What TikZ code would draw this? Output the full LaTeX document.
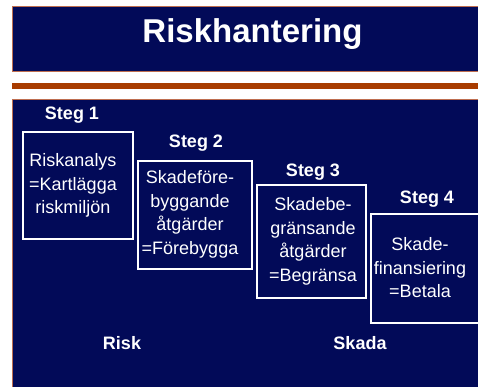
\documentclass[tikz,border=0pt]{standalone}
\usepackage{fontspec}
\setmainfont{Liberation Sans}
\definecolor{navy}{RGB}{2,10,88}
\definecolor{rust}{RGB}{168,60,0}
\definecolor{edge}{RGB}{190,110,80}
\begin{document}
\begin{tikzpicture}[x=1pt,y=-1pt,
  panel/.style={fill=navy,draw=edge,line width=1pt},
  stepbox/.style={draw=white,line width=1.6pt,anchor=north west,inner sep=0pt},
  boxtext/.style={text=white,font=\fontsize{18}{23.5}\selectfont,align=center,inner sep=0pt},
  steplabel/.style={text=white,font=\fontsize{18}{22}\selectfont\bfseries,inner sep=0pt},
  bottomlabel/.style={text=white,font=\fontsize{18}{22}\selectfont\bfseries,inner sep=0pt,anchor=base}]
\useasboundingbox (0,0) rectangle (478,387);
\clip (0,0) rectangle (478,387);
\fill[white] (0,0) rectangle (478,387);
% title band
\filldraw[panel] (12,7) rectangle (490,72);
\node[text=white,font=\fontsize{33}{36}\selectfont\bfseries,anchor=base,inner sep=0pt] (title) at (252.5,43) {Riskhantering};
% rust bar
\fill[rust] (12,83) rectangle (490,89);
% lower panel
\filldraw[panel] (12,100) rectangle (490,400);
% boxes
\node[stepbox,minimum width=110pt,minimum height=107pt] (b1) at (22,131) {};
\node[stepbox,minimum width=114pt,minimum height=108pt] (b2) at (137,160) {};
\node[stepbox,minimum width=109pt,minimum height=113pt] (b3) at (256,184) {};
\node[stepbox,minimum width=130pt,minimum height=109pt] (b4) at (370,213) {};
% step labels
\node[steplabel] (s1) at (72,115) {Steg 1};
\node[steplabel] (s2) at (196,143) {Steg 2};
\node[steplabel] (s3) at (313,172) {Steg 3};
\node[steplabel] (s4) at (427,199) {Steg 4};
% box texts
\node[boxtext] (t1) at (73,185.5) {Riskanalys\\=Kartlägga\\riskmiljön};
\node[boxtext] (t2) at (190,214.5) {Skadeföre-\\byggande\\åtgärder\\=Förebygga};
\node[boxtext] (t3) at (313,241.5) {Skadebe-\\gränsande\\åtgärder\\=Begränsa};
\node[boxtext] (t4) at (420,268) {Skade-\\finansiering\\=Betala};
% bottom labels
\node[bottomlabel] (risk) at (122,349.5) {Risk};
\node[bottomlabel] (skada) at (360,349.5) {Skada};
\end{tikzpicture}
\end{document}
